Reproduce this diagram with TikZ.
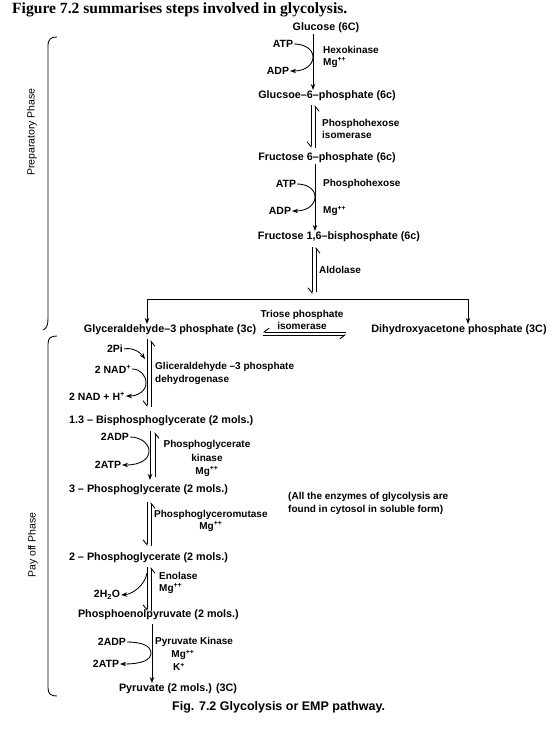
\documentclass[tikz,border=0pt]{standalone}
\usepackage{fontspec}
\setmainfont{Liberation Serif}
\setsansfont{Liberation Sans}
\usetikzlibrary{arrows.meta,calc}
\begin{document}
\begin{tikzpicture}[x=1pt,y=-1pt,
 cmp/.style={font=\sffamily\bfseries\fontsize{10.8}{12}\selectfont, inner sep=0.8pt},
 side/.style={font=\sffamily\bfseries\fontsize{10.5}{12}\selectfont, inner sep=0.8pt},
 lab/.style={font=\sffamily\bfseries\fontsize{10}{12}\selectfont, inner sep=0pt, align=left},
 ln/.style={line width=0.85pt},
 arr/.style={ln, -{Stealth[length=6pt,width=4.5pt]}},
 hp/.style={ln, -{Straight Barb[harpoon,swap,length=5pt,width=8pt]}},
]
\useasboundingbox (0,0) rectangle (557,729);
\node[anchor=west, font=\rmfamily\bfseries\fontsize{15.6}{17}\selectfont, inner sep=0] (title) at (12,10) {Figure 7.2 summarises steps involved in glycolysis.};

% ---- preparatory phase
\node[cmp] (glc) at (326,28) {Glucose (6C)};
\node[cmp] (g6p) at (327,96) {Glucsoe–6–phosphate (6c)};
\node[cmp] (f6p) at (327,158) {Fructose 6–phosphate (6c)};
\node[cmp] (f16) at (339,237) {Fructose 1,6–bisphosphate (6c)};
\node[cmp] (gap) at (170,330) {Glyceraldehyde–3 phosphate (3c)};
\node[cmp] (dhap) at (459,330) {Dihydroxyacetone phosphate (3C)};

\coordinate (c1) at (313,0);
\draw[arr] (glc.south -| c1) -- (g6p.north -| c1);
\node[side] (atp1) at (283,44) {ATP};
\node[side] (adp1) at (278,71) {ADP};
\coordinate (t1) at (313,57);
\draw[ln] (atp1.east) .. controls (304,44) and (313,49) .. (t1);
\draw[arr] (t1) .. controls (313,65) and (305,71) .. (adp1.east);
\node[lab, anchor=west] (hex) at (323,56.5) {Hexokinase\\Mg\textsuperscript{++}};

\coordinate (e1l) at (311,0);
\coordinate (e1r) at (315,0);
\draw[hp, shorten <=3pt, shorten >=4pt] (g6p.south -| e1l) -- (f6p.north -| e1l);
\draw[hp, shorten <=4pt, shorten >=3pt] (f6p.north -| e1r) -- (g6p.south -| e1r);
\node[lab, anchor=west] (phi) at (322,129) {Phosphohexose\\isomerase};

\coordinate (c2) at (315,0);
\draw[arr] (f6p.south -| c2) -- (f16.north -| c2);
\node[side] (atp2) at (286,184) {ATP};
\node[side] (adp2) at (280,211) {ADP};
\coordinate (t2) at (315,197);
\draw[ln] (atp2.east) .. controls (307,184) and (315,189) .. (t2);
\draw[arr] (t2) .. controls (315,205) and (307,211) .. (adp2.east);
\node[lab, anchor=west] (pfk) at (323,184) {Phosphohexose};
\node[lab, anchor=west] (pfkmg) at (323,211) {Mg\textsuperscript{++}};

\coordinate (e2l) at (312,0);
\coordinate (e2r) at (316,0);
\coordinate (sp) at (314,299);
\draw[hp, shorten <=4pt, shorten >=5pt] (f16.south -| e2l) -- (sp -| e2l);
\draw[hp, shorten <=7pt, shorten >=4pt] (sp -| e2r) -- (f16.south -| e2r);
\node[lab, anchor=west] (ald) at (319,270) {Aldolase};

\coordinate (hl) at (147,299);
\coordinate (hr) at (468,299);
\draw[ln] (hl) -- (hr);
\draw[arr] (hl) -- (gap.north -| hl);
\draw[arr] (hr) -- (dhap.north -| hr);

\coordinate (tl) at (263,332);
\coordinate (tr) at (346,335);
\draw[hp] (tr |- tl) -- (tl);
\draw[hp] (tl |- tr) -- (tr);
\node[lab, align=center] (tpi) at (302,320) {Triose phosphate\\isomerase};

% ---- pay off phase
\node[cmp, anchor=west] (bpg) at (68,421) {1.3 – Bisphosphoglycerate (2 mols.)};
\node[cmp, anchor=west] (pg3) at (68,490) {3 – Phosphoglycerate (2 mols.)};
\node[cmp, anchor=west] (pg2) at (68,558) {2 – Phosphoglycerate (2 mols.)};
\node[cmp, anchor=west] (pep) at (77,615) {Phosphoenolpyruvate (2 mols.)};
\node[cmp, anchor=west] (pyr) at (118,689) {Pyruvate (2 mols.) (3C)};

\coordinate (e3l) at (147,0);
\coordinate (e3r) at (151,0);
\draw[hp, shorten <=3pt, shorten >=8pt] (gap.south -| e3l) -- (bpg.north -| e3l);
\draw[hp, shorten <=8pt, shorten >=4pt] (bpg.north -| e3r) -- (gap.south -| e3r);
\node[side] (pi) at (115,349) {2Pi};
\coordinate (t3a) at (145,359);
\draw[arr] (pi.east) .. controls (132,347) and (140,352) .. (t3a);
\node[side] (nad) at (113,369) {2 NAD\textsuperscript{+}};
\node[side] (nadh) at (97,396) {2 NAD + H\textsuperscript{+}};
\coordinate (t3b) at (146,383);
\draw[ln] (nad.east) .. controls (140,369) and (146,375) .. (t3b);
\draw[arr] (t3b) .. controls (146,391) and (138,396) .. (nadh.east);
\node[lab, anchor=west, font=\sffamily\bfseries\fontsize{10}{13}\selectfont] (gapdh) at (155,373.5) {Gliceraldehyde –3 phosphate\\dehydrogenase};

\coordinate (e4l) at (150,0);
\coordinate (e4r) at (155,0);
\draw[arr, shorten <=4pt, shorten >=4pt] (bpg.south -| e4l) -- (pg3.north -| e4l);
\draw[hp, shorten <=7pt, shorten >=5pt] (pg3.north -| e4r) -- (bpg.south -| e4r);
\node[side] (adp3) at (115,437) {2ADP};
\node[side] (atp3) at (108,465) {2ATP};
\coordinate (t4) at (149,451);
\draw[ln] (adp3.east) .. controls (140,437) and (149,443) .. (t4);
\draw[arr] (t4) .. controls (149,459) and (141,465) .. (atp3.east);
\node[lab, align=center, font=\sffamily\bfseries\fontsize{10}{13.5}\selectfont] (pgk) at (207,458.5) {Phosphoglycerate\\kinase\\Mg\textsuperscript{++}};

\node[lab, anchor=west, font=\sffamily\bfseries\fontsize{10}{13}\selectfont] (note) at (288,503.5) {(All the enzymes of glycolysis are\\found in cytosol in soluble form)};

\coordinate (e5l) at (147,0);
\coordinate (e5r) at (151,0);
\draw[hp, shorten <=6pt, shorten >=6pt] (pg3.south -| e5l) -- (pg2.north -| e5l);
\draw[hp, shorten <=6pt, shorten >=6pt] (pg2.north -| e5r) -- (pg3.south -| e5r);
\node[lab, anchor=west, align=center] (pgm) at (154,521) {Phosphoglyceromutase\\Mg\textsuperscript{++}};

\coordinate (e6l) at (147,0);
\coordinate (e6r) at (151,0);
\draw[hp, shorten <=3pt, shorten >=-2pt] (pg2.south -| e6l) -- (pep.north -| e6l);
\draw[hp, shorten <=-2pt, shorten >=3pt] (pep.north -| e6r) -- (pg2.south -| e6r);
\node[lab, anchor=west] (eno) at (159,583) {Enolase\\Mg\textsuperscript{++}};
\node[side] (h2o) at (107,595) {2H\textsubscript{2}O};
\coordinate (t6) at (147,573);
\draw[arr] (t6) .. controls (145,585) and (133,594) .. (h2o.east);

\coordinate (c7) at (152,0);
\draw[arr, shorten <=3pt] (pep.south -| c7) -- (pyr.north -| c7);
\node[side] (adp4) at (112,642) {2ADP};
\node[side] (atp4) at (106,664) {2ATP};
\coordinate (t7) at (151,653);
\draw[ln] (adp4.east) .. controls (142,642) and (151,646) .. (t7);
\draw[arr] (t7) .. controls (151,660) and (142,664) .. (atp4.east);
\node[lab, anchor=west] (pk) at (155,642) {Pyruvate Kinase};
\node[lab] (pkmg) at (183,655) {Mg\textsuperscript{++}};
\node[lab] (pkk) at (179,667) {K\textsuperscript{+}};

% ---- braces
\draw[ln] (57,37) .. controls (51,37) and (48,39) .. (48,46) -- (48,318) .. controls (48,325) and (47,328) .. (43,330);
\draw[ln] (57,336) .. controls (51,336) and (48,338) .. (48,344) -- (48,688) .. controls (48,694) and (51,696) .. (57,696);
\node[rotate=90, font=\sffamily\fontsize{10.5}{12}\selectfont, inner sep=0] (prep) at (32,132) {Preparatory Phase};
\node[rotate=90, font=\sffamily\fontsize{10.5}{12}\selectfont, inner sep=0] (pay) at (33,545) {Pay off Phase};

\node[anchor=west, font=\sffamily\bfseries\fontsize{12.5}{14}\selectfont, inner sep=0] (cap) at (172,707) {Fig. 7.2 Glycolysis or EMP pathway.};
\end{tikzpicture}
\end{document}
